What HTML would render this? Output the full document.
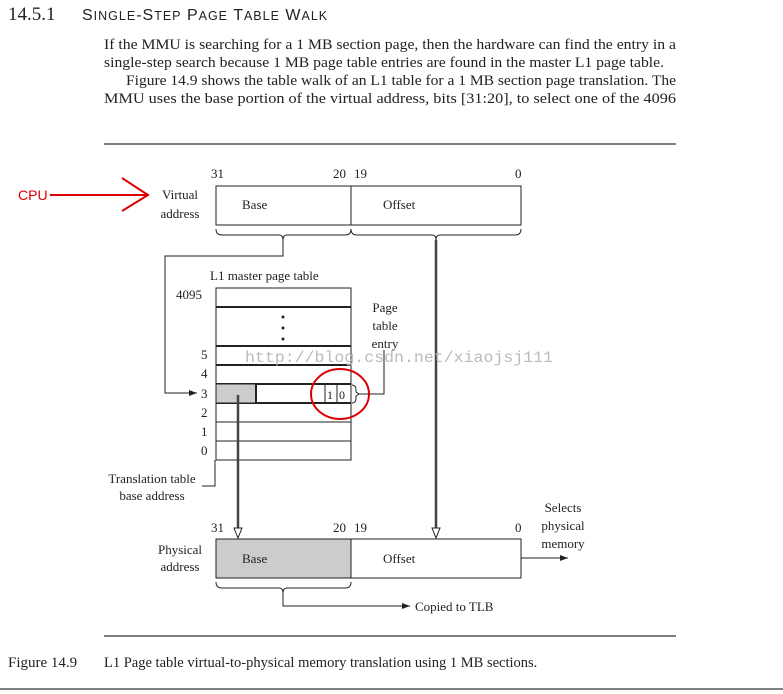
<!DOCTYPE html>
<html><head><meta charset="utf-8"><style>
body{margin:0;background:#fff;width:783px;height:694px;overflow:hidden}
svg{display:block}
text{font-family:"Liberation Serif",serif;fill:#222}
</style></head><body>
<svg width="783" height="694" viewBox="0 0 783 694" xmlns="http://www.w3.org/2000/svg">
<defs><marker id="a" markerWidth="8" markerHeight="6" refX="8" refY="3" orient="auto"><path d="M0,0 L8,3 L0,6 z" fill="#222"/></marker></defs>
<text x="8" y="20" font-size="19">14.5.1</text>
<text x="82" y="20" style="font-family:'Liberation Sans',sans-serif" font-size="16" letter-spacing="1">S<tspan font-size="12.5">INGLE</tspan>-S<tspan font-size="12.5">TEP</tspan> P<tspan font-size="12.5">AGE</tspan> T<tspan font-size="12.5">ABLE</tspan> W<tspan font-size="12.5">ALK</tspan></text>
<g font-size="14.5">
<text x="104" y="49" textLength="572" lengthAdjust="spacingAndGlyphs">If the MMU is searching for a 1 MB section page, then the hardware can find the entry in a</text>
<text x="104" y="67" textLength="560" lengthAdjust="spacingAndGlyphs">single-step search because 1 MB page table entries are found in the master L1 page table.</text>
<text x="126" y="85" textLength="550" lengthAdjust="spacingAndGlyphs">Figure 14.9 shows the table walk of an L1 table for a 1 MB section page translation. The</text>
<text x="104" y="103" textLength="572" lengthAdjust="spacingAndGlyphs">MMU uses the base portion of the virtual address, bits [31:20], to select one of the 4096</text>
</g>
<line x1="104" y1="144" x2="676" y2="144" stroke="#555" stroke-width="1.5"/>
<line x1="104" y1="636" x2="676" y2="636" stroke="#555" stroke-width="1.5"/>
<line x1="0" y1="689" x2="783" y2="689" stroke="#555" stroke-width="1.5"/>
<text x="8" y="667" font-size="15">Figure 14.9</text>
<text x="104" y="667" font-size="14.5">L1 Page table virtual-to-physical memory translation using 1 MB sections.</text>
<g font-size="13">
<text x="18" y="200" style="font-family:'Liberation Sans',sans-serif;fill:#d00" font-size="14">CPU</text>
<path d="M50,195 H148 M122,178 L148,195 L122,211" stroke="#d00" stroke-width="2" fill="none"/>
<text x="180" y="199" text-anchor="middle">Virtual</text><text x="180" y="218" text-anchor="middle">address</text>
<text x="211" y="178">31</text><text x="333" y="178">20</text><text x="354" y="178">19</text><text x="515" y="178">0</text>
<rect x="216" y="186" width="305" height="39" fill="#fff" stroke="#222"/>
<line x1="351" y1="186" x2="351" y2="225" stroke="#222"/>
<text x="242" y="209">Base</text><text x="383" y="209">Offset</text>
<path d="M216,229 q0,6 6,6 H279 q4,0 4,5 q0,-5 4,-5 H345 q6,0 6,-6 q0,6 6,6 H432 q4,0 4,5 q0,-5 4,-5 H515 q6,0 6,-6" fill="none" stroke="#222"/>
<path d="M283,240 V256 H165 V393 H197" fill="none" stroke="#222" marker-end="url(#a)"/>
<path d="M436,240 V528" fill="none" stroke="#444" stroke-width="2.5"/>
<path d="M432,528 L436,538 L440,528 z" fill="#fff" stroke="#222"/>
<text x="210" y="280">L1 master page table</text>
<text x="176" y="299">4095</text>
<rect x="216" y="288" width="135" height="172" fill="none" stroke="#222"/>
<g stroke="#222" stroke-width="2"><line x1="216" y1="307" x2="351" y2="307"/><line x1="216" y1="346" x2="351" y2="346"/><line x1="216" y1="365" x2="351" y2="365"/><line x1="216" y1="384" x2="351" y2="384"/><line x1="216" y1="403" x2="351" y2="403"/></g>
<g stroke="#222"><line x1="216" y1="422" x2="351" y2="422"/><line x1="216" y1="441" x2="351" y2="441"/><line x1="216" y1="460" x2="351" y2="460"/></g>
<circle cx="283" cy="317" r="1.5" fill="#222"/><circle cx="283" cy="328" r="1.5" fill="#222"/><circle cx="283" cy="339" r="1.5" fill="#222"/>
<rect x="216" y="384" width="40" height="19" fill="#ccc" stroke="#222"/>
<line x1="256" y1="384" x2="256" y2="403" stroke="#222" stroke-width="2"/>
<line x1="325" y1="384" x2="325" y2="403" stroke="#222"/><line x1="337" y1="384" x2="337" y2="403" stroke="#222"/>
<text x="327" y="399" font-size="12">1</text><text x="339" y="399" font-size="12">0</text>
<text x="201" y="359">5</text><text x="201" y="378">4</text><text x="201" y="398">3</text><text x="201" y="417">2</text><text x="201" y="436">1</text><text x="201" y="455">0</text>
<path d="M352,385 q4,0 4,5 v2 l3,2 l-3,2 v2 q0,5 -4,5 M359,394 H384 V350" fill="none" stroke="#222"/>
<text x="385" y="312" text-anchor="middle">Page</text><text x="385" y="330" text-anchor="middle">table</text><text x="385" y="348" text-anchor="middle">entry</text>
<ellipse cx="340" cy="394" rx="29" ry="25" fill="none" stroke="#d00" stroke-width="2"/>
<text x="245" y="362" style="font-family:'Liberation Mono',monospace;fill:#bbb" font-size="16" textLength="308" lengthAdjust="spacingAndGlyphs">http://blog.csdn.net/xiaojsj111</text>
<path d="M238,395 V528" fill="none" stroke="#444" stroke-width="2.5"/>
<path d="M234,528 L238,538 L242,528 z" fill="#fff" stroke="#222"/>
<text x="152" y="483" text-anchor="middle">Translation table</text><text x="152" y="500" text-anchor="middle">base address</text>
<path d="M202,486 H215 V460" fill="none" stroke="#222"/>
<text x="211" y="532">31</text><text x="333" y="532">20</text><text x="354" y="532">19</text><text x="515" y="532">0</text>
<text x="180" y="554" text-anchor="middle">Physical</text><text x="180" y="571" text-anchor="middle">address</text>
<rect x="216" y="539" width="305" height="39" fill="#fff" stroke="#222"/>
<rect x="216" y="539" width="135" height="39" fill="#ccc" stroke="#222"/>
<text x="242" y="563">Base</text><text x="383" y="563">Offset</text>
<path d="M521,558 H568" fill="none" stroke="#222" marker-end="url(#a)"/>
<text x="563" y="512" text-anchor="middle">Selects</text><text x="563" y="530" text-anchor="middle">physical</text><text x="563" y="548" text-anchor="middle">memory</text>
<path d="M216,582 q0,6 6,6 H279 q4,0 4,5 q0,-5 4,-5 H345 q6,0 6,-6" fill="none" stroke="#222"/>
<path d="M283,593 V606 H410" fill="none" stroke="#222" marker-end="url(#a)"/>
<text x="415" y="611">Copied to TLB</text>
</g>
</svg>
</body></html>
